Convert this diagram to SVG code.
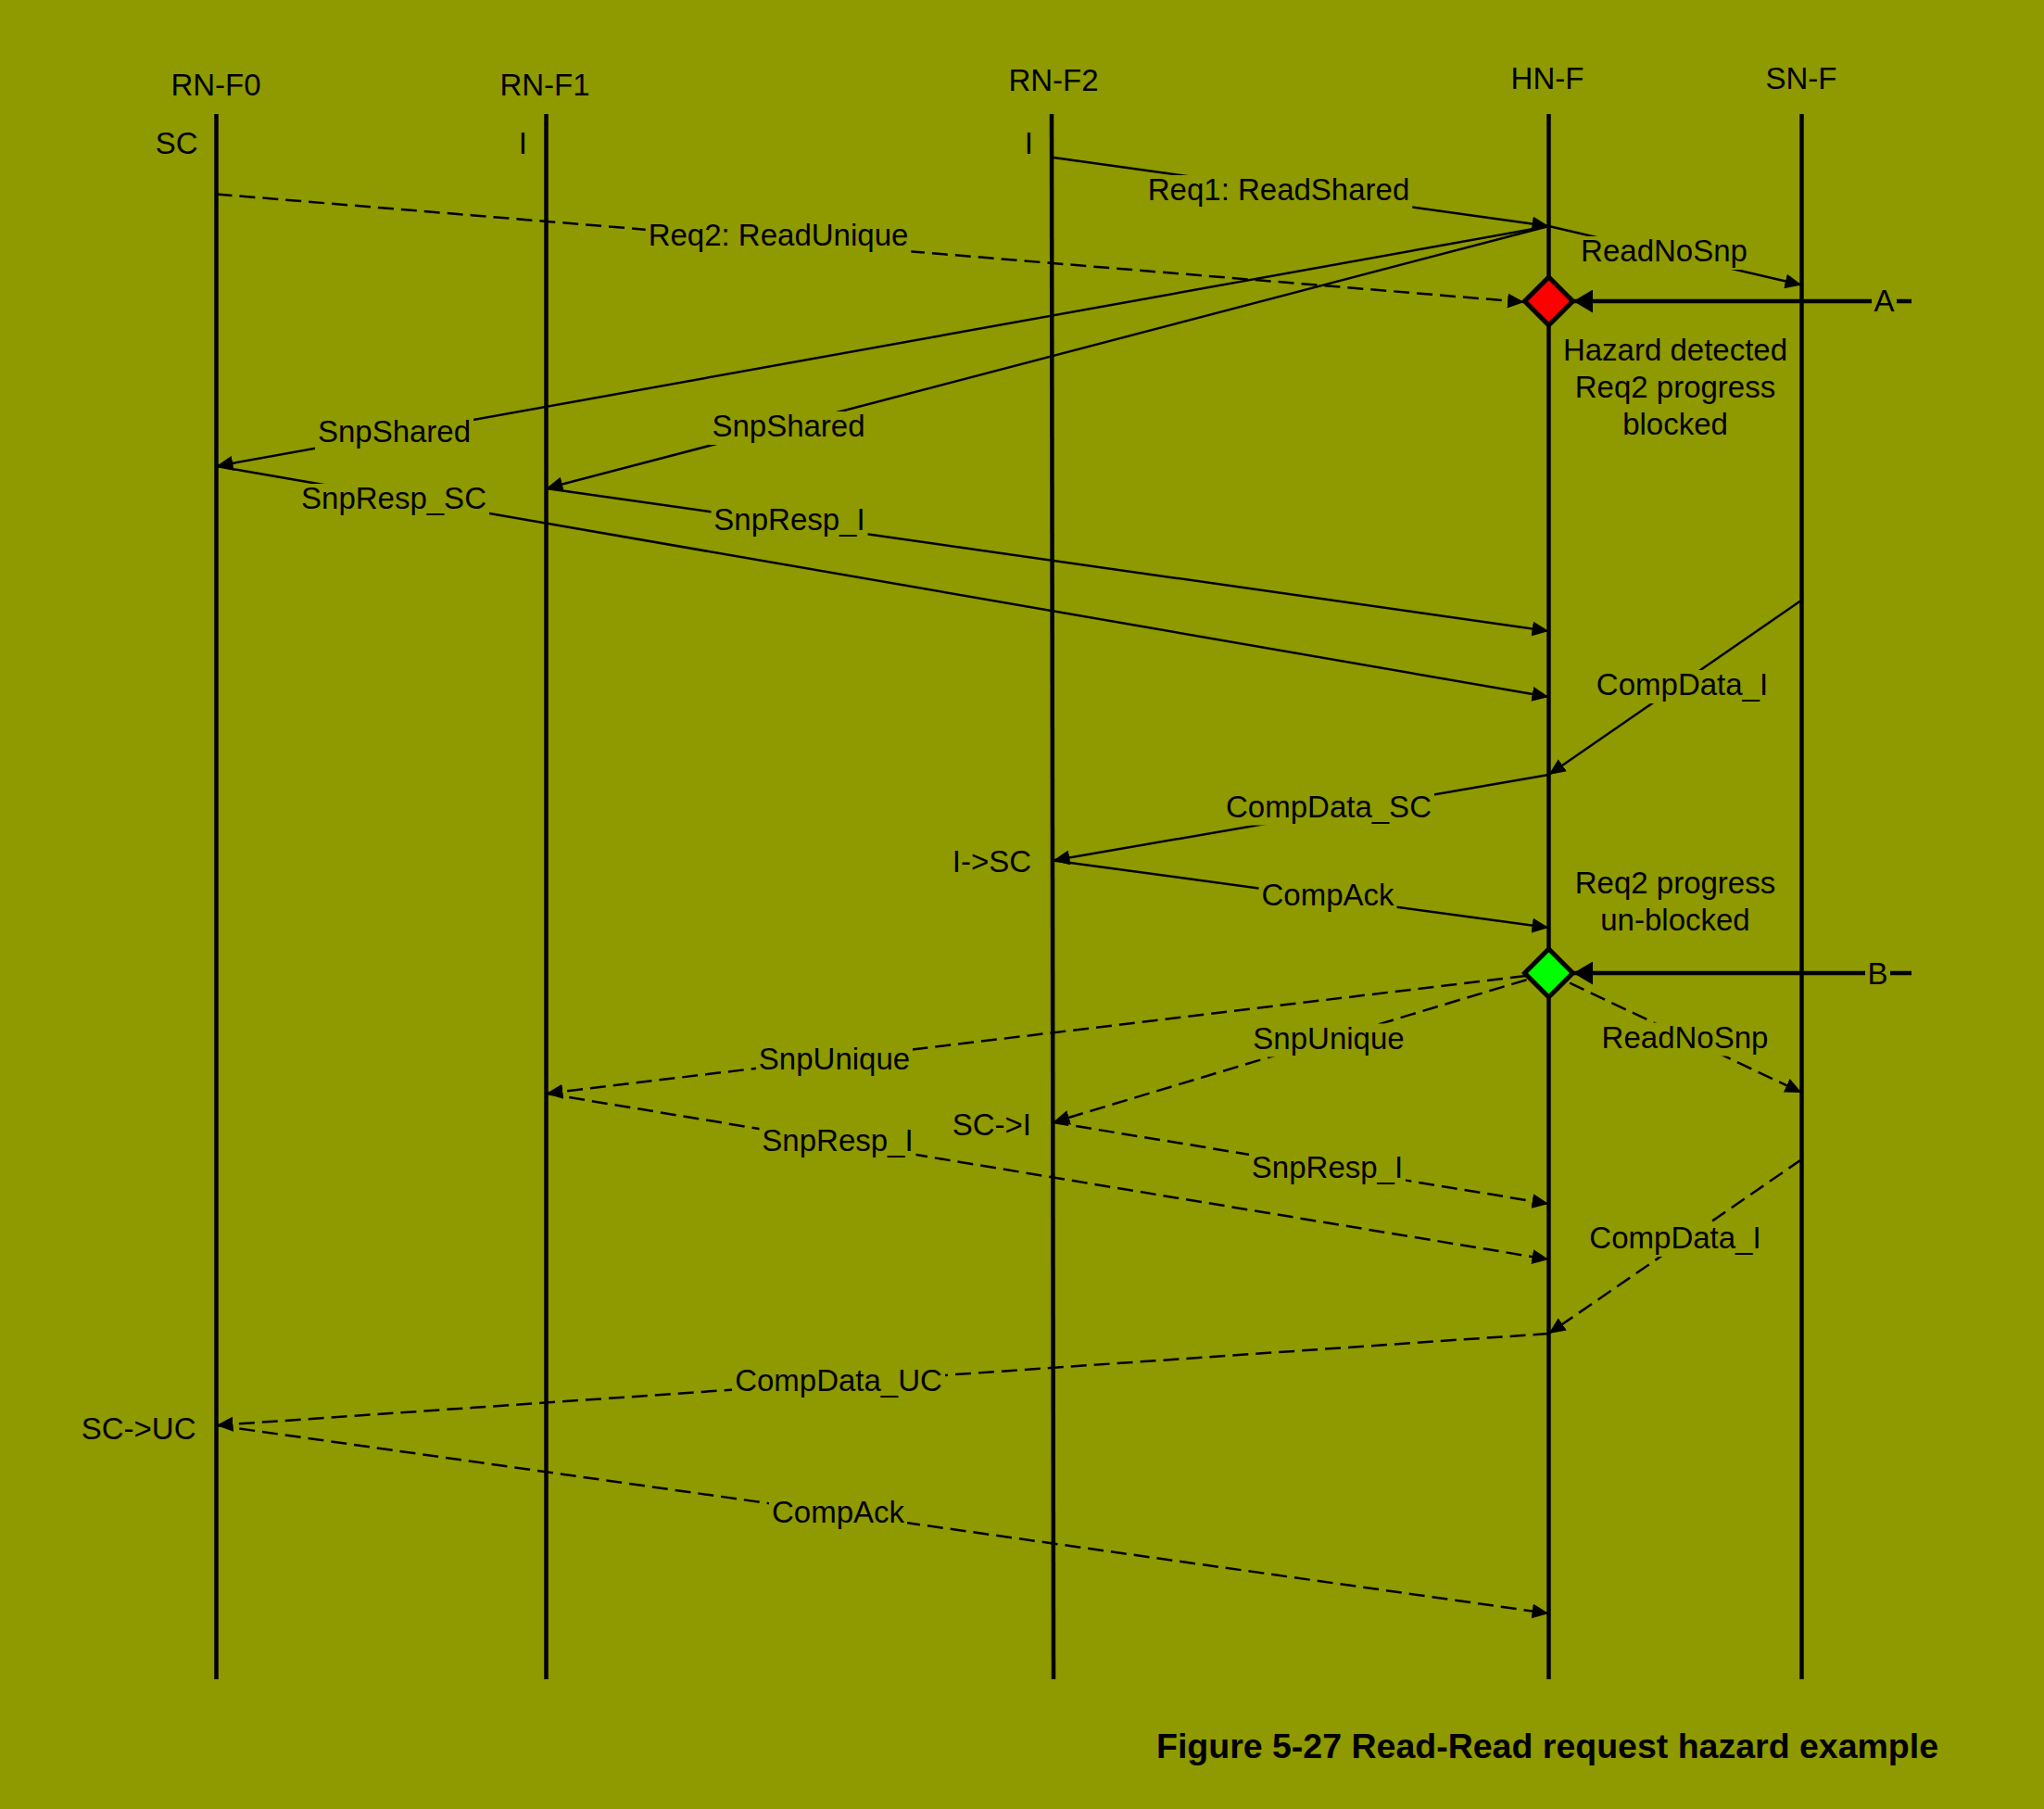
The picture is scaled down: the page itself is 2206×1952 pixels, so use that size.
<svg xmlns="http://www.w3.org/2000/svg" width="2206" height="1952" viewBox="0 0 2206 1952">
  <defs>
    <marker id="arr" markerUnits="userSpaceOnUse" markerWidth="18" markerHeight="16" refX="18" refY="8" orient="auto">
      <path d="M0,0 L18,8 L0,16 z" fill="#000"/>
    </marker>
    <marker id="arrBig" markerUnits="userSpaceOnUse" markerWidth="21" markerHeight="25" refX="21" refY="12.5" orient="auto">
      <path d="M0,0 L21,12.5 L0,25 z" fill="#000"/>
    </marker>
    <style>
      text { font-family: "Liberation Sans", Arial, sans-serif; font-size: 33px; fill: #000; }
      .life { stroke: #000; stroke-width: 4.5; fill: none; }
      .msg { stroke: #000; stroke-width: 2.5; fill: none; marker-end: url(#arr); }
      .dash { stroke-dasharray: 17 8; }
      .thick { stroke: #000; stroke-width: 4.5; fill: none; marker-end: url(#arrBig); }
      .bg { fill: #8F9900; stroke: none; }
      .lbl { text-anchor: middle; }
      .mid { text-anchor: middle; }
      .end { text-anchor: end; }
      .dia { stroke: #000; stroke-width: 5; stroke-linejoin: miter; }
      .cap { font-weight: bold; font-size: 37.5px; }
    </style>
  </defs>
  <rect x="0" y="0" width="2206" height="1952" fill="#8F9900"/>

  <g id="rn-f0">
    <line class="life" x1="233.5" y1="123" x2="233.5" y2="1812"/>
    <text class="mid" x="233" y="103">RN-F0</text>
    <text class="end" x="213.5" y="166">SC</text>
    <text class="end" x="211.5" y="1553">SC-&gt;UC</text>
  </g>
  <g id="rn-f1">
    <line class="life" x1="589.5" y1="123" x2="589.5" y2="1812"/>
    <text class="mid" x="588" y="103">RN-F1</text>
    <text class="end" x="569" y="166">I</text>
  </g>
  <g id="rn-f2">
    <line class="life" x1="1135" y1="123" x2="1137" y2="1812"/>
    <text class="mid" x="1137" y="98">RN-F2</text>
    <text class="end" x="1115" y="166">I</text>
    <text class="end" x="1113" y="941">I-&gt;SC</text>
    <text class="end" x="1113" y="1225">SC-&gt;I</text>
  </g>
  <g id="hn-f">
    <line class="life" x1="1671.5" y1="123" x2="1671.5" y2="1812"/>
    <text class="mid" x="1670" y="96">HN-F</text>
  </g>
  <g id="sn-f">
    <line class="life" x1="1944.5" y1="123" x2="1944.5" y2="1812"/>
    <text class="mid" x="1944" y="96">SN-F</text>
  </g>

  <g id="connectors">
    <g id="c-req1">
      <line class="msg" x1="1137" y1="170" x2="1671.5" y2="244"/>
      <rect class="bg" x="1235.8" y="189" width="288.5" height="36"/>
      <text class="lbl" x="1380" y="216">Req1: ReadShared</text>
    </g>
    <g id="c-readnosnp1">
      <line class="msg" x1="1671.5" y1="244" x2="1944.5" y2="307.5"/>
      <rect class="bg" x="1703" y="255" width="186" height="36"/>
      <text class="lbl" x="1796" y="282">ReadNoSnp</text>
    </g>
    <g id="c-req2">
      <line class="msg dash" x1="233.5" y1="209.5" x2="1645" y2="326"/>
      <rect class="bg" x="696.7" y="238" width="286.6" height="36"/>
      <text class="lbl" x="840" y="265">Req2: ReadUnique</text>
    </g>
    <g id="c-snpshared0">
      <line class="msg" x1="1671.5" y1="244" x2="233.5" y2="503"/>
      <rect class="bg" x="340" y="450" width="171" height="36"/>
      <text class="lbl" x="425.5" y="477">SnpShared</text>
    </g>
    <g id="c-snpshared1">
      <line class="msg" x1="1671.5" y1="244" x2="589.5" y2="527"/>
      <rect class="bg" x="765.5" y="444" width="171" height="36"/>
      <text class="lbl" x="851" y="471">SnpShared</text>
    </g>
    <g id="c-snpresp-sc">
      <line class="msg" x1="233.5" y1="503" x2="1671.5" y2="752"/>
      <rect class="bg" x="322" y="522" width="206" height="36"/>
      <text class="lbl" x="425" y="549">SnpResp_SC</text>
    </g>
    <g id="c-snpresp-i1">
      <line class="msg" x1="589.5" y1="527" x2="1671.5" y2="681"/>
      <rect class="bg" x="767.5" y="545" width="169" height="36"/>
      <text class="lbl" x="852" y="572">SnpResp_I</text>
    </g>
    <g id="c-compdata-i1">
      <line class="msg" x1="1944.5" y1="647.5" x2="1671.5" y2="836"/>
      <rect class="bg" x="1720" y="723" width="191" height="36"/>
      <text class="lbl" x="1815.5" y="750">CompData_I</text>
    </g>
    <g id="c-compdata-sc">
      <line class="msg" x1="1671.5" y1="836" x2="1136.5" y2="928.5"/>
      <rect class="bg" x="1320" y="854.5" width="228" height="36"/>
      <text class="lbl" x="1434" y="881.5">CompData_SC</text>
    </g>
    <g id="c-compack1">
      <line class="msg" x1="1136.5" y1="928.5" x2="1671.5" y2="1001"/>
      <rect class="bg" x="1358.5" y="950" width="149" height="36"/>
      <text class="lbl" x="1433" y="977">CompAck</text>
    </g>
    <g id="c-snpunique1">
      <line class="msg dash" x1="1671.5" y1="1050" x2="589.5" y2="1180"/>
      <rect class="bg" x="816" y="1127" width="169" height="36"/>
      <text class="lbl" x="900.5" y="1154">SnpUnique</text>
    </g>
    <g id="c-snpunique2">
      <line class="msg dash" x1="1671.5" y1="1050" x2="1136.5" y2="1211"/>
      <rect class="bg" x="1349.5" y="1104.5" width="169" height="36"/>
      <text class="lbl" x="1434" y="1131.5">SnpUnique</text>
    </g>
    <g id="c-readnosnp2">
      <line class="msg dash" x1="1671.5" y1="1050" x2="1944.5" y2="1179"/>
      <rect class="bg" x="1725.5" y="1103.5" width="186" height="36"/>
      <text class="lbl" x="1818.5" y="1130.5">ReadNoSnp</text>
    </g>
    <g id="c-snpresp-i2">
      <line class="msg dash" x1="1136.5" y1="1211" x2="1671.5" y2="1299"/>
      <rect class="bg" x="1348" y="1244" width="169" height="36"/>
      <text class="lbl" x="1432.5" y="1271">SnpResp_I</text>
    </g>
    <g id="c-snpresp-i3">
      <line class="msg dash" x1="589.5" y1="1180" x2="1671.5" y2="1359"/>
      <rect class="bg" x="819.5" y="1215" width="169" height="36"/>
      <text class="lbl" x="904" y="1242">SnpResp_I</text>
    </g>
    <g id="c-compdata-i2">
      <line class="msg dash" x1="1944.5" y1="1251" x2="1671.5" y2="1439"/>
      <rect class="bg" x="1712.5" y="1320" width="191" height="36"/>
      <text class="lbl" x="1808" y="1347">CompData_I</text>
    </g>
    <g id="c-compdata-uc">
      <line class="msg dash" x1="1671.5" y1="1439" x2="233.5" y2="1538"/>
      <rect class="bg" x="790" y="1474" width="230" height="36"/>
      <text class="lbl" x="905" y="1501">CompData_UC</text>
    </g>
    <g id="c-compack2">
      <line class="msg dash" x1="233.5" y1="1538" x2="1671.5" y2="1741"/>
      <rect class="bg" x="830" y="1616" width="149" height="36"/>
      <text class="lbl" x="904.5" y="1643">CompAck</text>
    </g>
    <g id="c-a">
      <line class="thick" x1="2063" y1="325" x2="1698" y2="325"/>
      <rect class="bg" x="2020" y="309" width="27" height="32"/>
      <text class="lbl" x="2033.5" y="336">A</text>
    </g>
    <g id="c-b">
      <line class="thick" x1="2063" y1="1050" x2="1698" y2="1050"/>
      <rect class="bg" x="2013" y="1035" width="27" height="32"/>
      <text class="lbl" x="2026.5" y="1062">B</text>
    </g>
  </g>

  <g id="hazard-blocked">
    <polygon class="dia" points="1671.5,299 1697.5,325 1671.5,351 1645.5,325" fill="#FF0000"/>
    <text class="mid" x="1808" y="389">Hazard detected</text>
    <text class="mid" x="1808" y="429">Req2 progress</text>
    <text class="mid" x="1808" y="469">blocked</text>
  </g>
  <g id="hazard-unblocked">
    <polygon class="dia" points="1671.5,1024 1697.5,1050 1671.5,1076 1645.5,1050" fill="#00FF00"/>
    <text class="mid" x="1808" y="964">Req2 progress</text>
    <text class="mid" x="1808" y="1004">un-blocked</text>
  </g>

  <text class="cap" x="1248" y="1897">Figure 5-27 Read-Read request hazard example</text>
</svg>
